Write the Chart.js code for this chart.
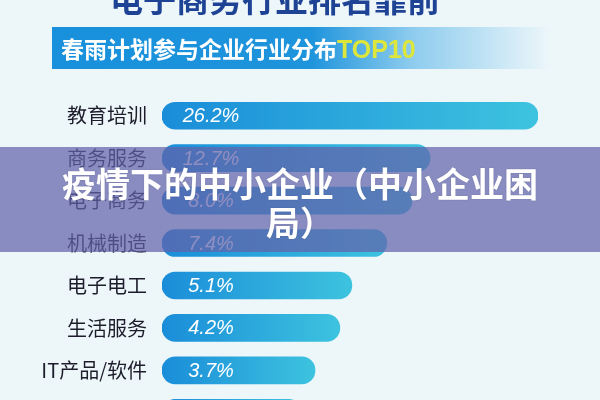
<!DOCTYPE html>
<html>
<head>
<meta charset="utf-8">
<script src="https://cdn.jsdelivr.net/npm/chart.js@4/dist/chart.umd.min.js"></script>
<style>
  html, body { margin: 0; padding: 0; }
  body { width: 600px; height: 400px; overflow: hidden; position: relative; background: #edf7fa; font-family: "Noto Sans CJK SC", sans-serif; }
  #wrap { position: absolute; left: 0; top: 0; width: 600px; height: 461px; }
  #topTitle { position: absolute; left: 0; width: 550px; top: -18px; text-align: center; font-weight: bold; font-size: 33px; line-height: 33px; color: #1e4394; white-space: nowrap; }
  #header { position: absolute; left: 52px; top: 27px; width: 498px; height: 42px;
    background: linear-gradient(to right, #1890db 0%, #1e94dc 52%, #8ccbee 72%, rgba(237,247,250,0) 100%); }
  #header span.t { position: absolute; left: 9px; top: 0; line-height: 42px; font-size: 23px; font-weight: bold; color: #fff; white-space: nowrap; }
  #header span.top { font-family: "Liberation Sans", Arial, sans-serif; font-size: 25px; color: #dde63a; }
  #band { position: absolute; left: 0; top: 147px; width: 600px; height: 105px; background: rgba(99,98,169,0.72); }
  #bandTitle { position: absolute; left: 0; top: 163px; width: 600px; box-sizing: border-box; padding: 0 58px; text-align: center;
    font-size: 34px; line-height: 39px; font-weight: bold; color: #fff; text-shadow: 0 0 2px rgba(0,0,0,0.15); }
</style>
</head>
<body>
<div id="wrap"><canvas id="chart" width="600" height="461"></canvas></div>
<div id="topTitle">电子商务行业排名靠前</div>
<div id="header"><span class="t">春雨计划参与企业行业分布<span class="top">TOP10</span></span></div>
<div id="band"></div>
<div id="bandTitle">疫情下的中小企业（中小企业困局）</div>
<script>
// rows as listed in the picture (last one is cut off at the bottom)
const categories = ['教育培训', '商务服务', '电子商务', '机械制造', '电子电工', '生活服务', 'IT产品/软件', '其他'];
// printed share of each industry
const shares = [26.2, 12.7, 8.0, 7.4, 5.1, 4.2, 3.7, 3.2];
// drawn bar length, relative to the longest bar (the picture is not to scale)
const barLengths = [100, 71.3, 66.5, 59.8, 50.5, 47.3, 40.7, 37.2];

// gradient per bar, left deep blue -> right cyan
function barGradient(c) {
    const ch = c.chart;
    const x = ch.scales.x;
    if (!x || !ch.chartArea || c.dataIndex === undefined) return '#2aa6dd';
    const x0 = x.getPixelForValue(0);
    const x1 = x.getPixelForValue(barLengths[c.dataIndex]);
    const g = ch.ctx.createLinearGradient(x0, 0, x1, 0);
    g.addColorStop(0, '#1a8dd9');
    g.addColorStop(1, '#3dc3df');
    return g;
}

// percentage text inside each bar
const valueLabels = {
    id: 'valueLabels',
    afterDatasetsDraw(chart) {
        const ctx = chart.ctx;
        const meta = chart.getDatasetMeta(0);
        ctx.save();
        ctx.font = 'italic 20px "Liberation Sans", Arial, sans-serif';
        ctx.fillStyle = '#ffffff';
        ctx.textAlign = 'center';
        ctx.textBaseline = 'middle';
        meta.data.forEach((el, i) => {
            ctx.fillText(shares[i].toFixed(1) + '%', 211, el.y + 1);
        });
        ctx.restore();
    }
};

new Chart(document.getElementById('chart'), {
    type: 'bar',
    data: {
        labels: categories,
        datasets: [{
            data: barLengths,
            backgroundColor: barGradient,
            borderWidth: 0,
            borderRadius: 14,
            borderSkipped: false,
            barThickness: 27,
        }]
    },
    options: {
        indexAxis: 'y',
        responsive: false,
        animation: false,
        devicePixelRatio: 1,
        layout: { padding: { top: 94.5, bottom: 8.5, left: 0, right: 62 } },
        plugins: { legend: { display: false }, tooltip: { enabled: false } },
        scales: {
            x: { display: false, min: 0, max: 100 },
            y: {
                afterFit: s => { s.width = 162; },
                grid: { display: false, drawTicks: false },
                border: { display: false },
                ticks: {
                    padding: 15,
                    color: '#1c1c2a',
                    font: { family: '"Noto Sans CJK SC", sans-serif', size: 20 },
                },
            }
        }
    },
    plugins: [valueLabels]
});
</script>
</body>
</html>
